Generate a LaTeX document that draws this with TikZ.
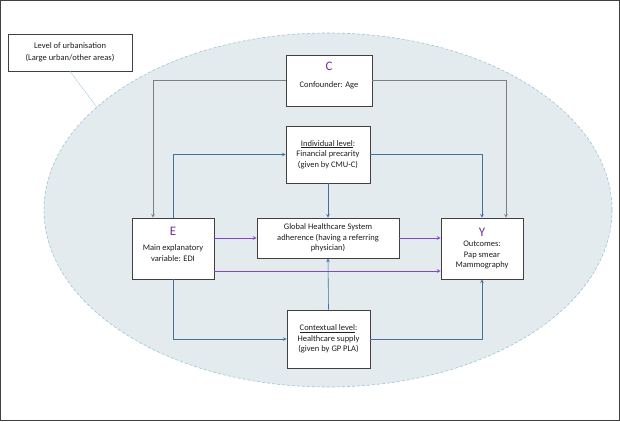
\documentclass[tikz,border=0pt]{standalone}
\usepackage{fontspec}
\setmainfont{Carlito}
\usetikzlibrary{shapes.geometric}
\definecolor{boxline}{HTML}{404040}
\definecolor{txt}{HTML}{1E1E1E}
\definecolor{purp}{HTML}{7030A0}
\definecolor{purpln}{HTML}{8446C4}
\definecolor{steel}{HTML}{41719C}
\definecolor{greyln}{HTML}{7F7F7F}
\definecolor{urbfill}{HTML}{E3EBEE}
\definecolor{urbline}{HTML}{9DC3D6}
\newcommand{\varname}[1]{{\fontsize{13}{13}\selectfont\color{purp}#1}}

\begin{document}
\begin{tikzpicture}[x=1pt, y=-1pt,
	box/.style={draw=boxline, fill=white, line width=0.8pt, align=center, inner sep=0pt, text=txt, font=\fontsize{8.5}{10.5}\selectfont},
	greyarr/.style={draw=greyln, line width=0.6pt, ->, >=stealth},
	bluearr/.style={draw=steel, line width=0.6pt, ->, >=stealth},
	purparr/.style={draw=purpln, line width=0.7pt, ->, >=stealth}]
				\useasboundingbox (0,0) rectangle (620,421);
				\draw[boxline, line width=1.2pt] (0.6,0.6) rectangle (619.4,420.4);
				\node[ellipse, draw=urbline, densely dashed, fill=urbfill, line width=0.6pt, minimum width=568pt, minimum height=354pt, inner sep=0pt] (urb)at(328, 210) {};
				\node[box, minimum width=124pt, minimum height=37pt] (lvl)at(70, 52.5) {Level of urbanisation\\[2pt](Large urban/other areas)};
				\node[box, minimum width=86pt, minimum height=51pt] (C)at(329, 80.5) {\varname{C}\\[6pt]Confounder: Age\rule[-11pt]{0pt}{11pt}};
				\node[box, minimum width=84pt, minimum height=57pt] (ind)at(328, 154.5) {\underline{Individual level}:\\Financial precarity\\(given by CMU-C)};
				\node[box, minimum width=82pt, minimum height=61pt] (E)at(173, 248.5) {\varname{E}\\[5pt]Main explanatory\\variable: EDI\rule[-9pt]{0pt}{9pt}};
				\node[box, minimum width=142pt, minimum height=40pt] (glob)at(328, 238) {Global Healthcare System\\adherence (having a referring\\physician)};
				\node[box, minimum width=82pt, minimum height=61pt] (Y)at(482, 248.5) {\varname{Y}\\Outcomes:\\Pap smear\\Mammography};
				\node[box, minimum width=83pt, minimum height=58pt] (ctx)at(328.5, 339) {\underline{Contextual level}:\\Healthcare supply\\(given by GP PLA)};
				\draw[urbline, dash pattern=on 1.5pt off 1pt, line width=0.6pt] (lvl.south) -- (urb.156.6);
				\draw[greyarr] (C.west) -| ([xshift=-20pt]E.north);
				\draw[greyarr] (C.east) -| ([xshift=24pt]Y.north);
				\draw[bluearr] (E.north) |- (ind.west);
				\draw[bluearr] (ind.east) -| (Y.north);
				\draw[bluearr] (ind.south) -- (glob.north);
				\draw[bluearr] (E.south) |- (ctx.west);
				\draw[bluearr] (ctx.north) -- (glob.south);
				\draw[bluearr] (ctx.east) -| (Y.south);
				\draw[purparr] (E.east |- glob.west) -- (glob.west);
				\draw[purparr] (glob.east) -- (glob.east -| Y.west);
				\draw[purparr] ([yshift=-22.5pt]E.east) -- ([yshift=-22.5pt]E.east -| Y.west);
			\end{tikzpicture}
\end{document}
